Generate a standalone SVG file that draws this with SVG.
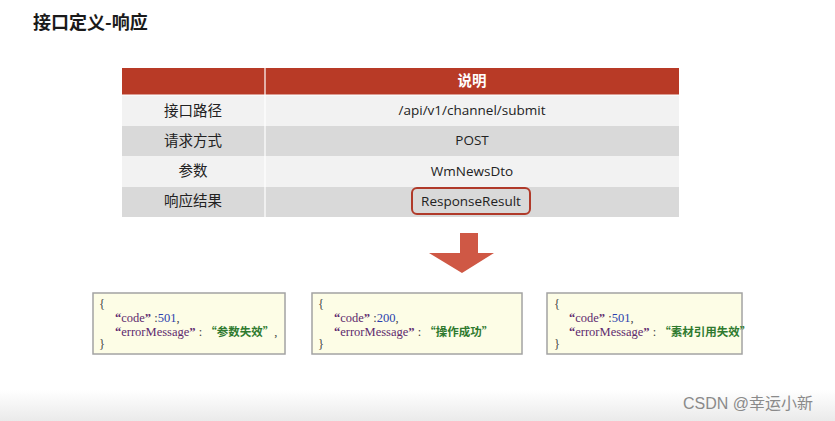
<svg xmlns="http://www.w3.org/2000/svg" width="835" height="421" viewBox="0 0 835 421">
<defs>
<linearGradient id="bot" x1="0" y1="0" x2="0" y2="1">
<stop offset="0" stop-color="#ffffff"/>
<stop offset="1" stop-color="#eaeaea"/>
</linearGradient>
<style>
.cn{font-family:"Noto Sans CJK SC","Noto Sans",sans-serif;font-size:14.5px;fill:#222;text-anchor:middle}
.en{font-family:"Open Sans","Liberation Sans",sans-serif;font-size:13.5px;fill:#222;text-anchor:middle}
.code{font-family:"Liberation Serif","Noto Sans CJK SC",serif;font-size:12.5px;fill:#444}
.k{fill:#5e2a6e}
.q{fill:#5e2a6e;font-weight:bold}
.n{fill:#2a3fae}
.s{fill:#2f7a2f;font-weight:bold;font-family:"Noto Sans CJK SC",serif;font-size:11.5px}
.box{fill:#fdfde6;stroke:#a3a3a3;stroke-width:1.5}
</style>
</defs>
<rect width="835" height="421" fill="#ffffff"/>
<rect x="0" y="390" width="835" height="31" fill="url(#bot)"/>
<text x="33" y="29" font-family="Noto Sans CJK SC,sans-serif" font-size="18" font-weight="bold" fill="#1a1a1a">接口定义-响应</text>

<g id="table">
<rect x="122" y="68" width="557" height="27" fill="#b83a26"/>
<rect x="122" y="95" width="557" height="31" fill="#f2f2f2"/>
<rect x="122" y="126" width="557" height="30" fill="#d9d9d9"/>
<rect x="122" y="156" width="557" height="31" fill="#f2f2f2"/>
<rect x="122" y="187" width="557" height="30" fill="#d9d9d9"/>
<line x1="265" y1="68" x2="265" y2="217" stroke="#ffffff" stroke-width="1.2"/>
<line x1="122" y1="95" x2="679" y2="95" stroke="#ffffff" stroke-width="1"/>
<text class="cn" x="472" y="86" style="fill:#ffffff;font-weight:bold">说明</text>
<text class="cn" x="193" y="116">接口路径</text>
<text class="cn" x="193" y="146">请求方式</text>
<text class="cn" x="193" y="176">参数</text>
<text class="cn" x="193" y="206">响应结果</text>
<text class="en" x="472" y="115">/api/v1/channel/submit</text>
<text class="en" x="472" y="145">POST</text>
<text class="en" x="472" y="176">WmNewsDto</text>
<text class="en" x="471" y="206">ResponseResult</text>
<rect x="412" y="188" width="118" height="26" rx="5" fill="none" stroke="#b03a2a" stroke-width="2"/>
</g>

<g id="connectors">
<polygon points="460,233 478,233 478,253 494,253 462,273 429,253 460,253" fill="#cf5845"/>
</g>

<g id="resp1">
<rect class="box" x="93" y="293" width="192" height="61"/>
<text class="code" x="99" y="308">{</text>
<text class="code" x="115" y="322"><tspan class="q">“</tspan><tspan class="k">code</tspan><tspan class="q">”</tspan> :<tspan class="n">501</tspan>,</text>
<text class="code" x="115" y="336"><tspan class="q">“</tspan><tspan class="k">errorMessage</tspan><tspan class="q">”</tspan> : <tspan class="s">“参数失效”</tspan>,</text>
<text class="code" x="99" y="348">}</text>
</g>

<g id="resp2">
<rect class="box" x="312" y="293" width="210" height="61"/>
<text class="code" x="318" y="308">{</text>
<text class="code" x="334" y="322"><tspan class="q">“</tspan><tspan class="k">code</tspan><tspan class="q">”</tspan> :<tspan class="n">200</tspan>,</text>
<text class="code" x="334" y="336"><tspan class="q">“</tspan><tspan class="k">errorMessage</tspan><tspan class="q">”</tspan> : <tspan class="s">“操作成功”</tspan></text>
<text class="code" x="318" y="348">}</text>
</g>

<g id="resp3">
<rect class="box" x="547" y="293" width="195" height="61"/>
<text class="code" x="554" y="308">{</text>
<text class="code" x="569" y="322"><tspan class="q">“</tspan><tspan class="k">code</tspan><tspan class="q">”</tspan> :<tspan class="n">501</tspan>,</text>
<text class="code" x="569" y="336"><tspan class="q">“</tspan><tspan class="k">errorMessage</tspan><tspan class="q">”</tspan> : <tspan class="s">“素材引用失效”</tspan></text>
<text class="code" x="554" y="348">}</text>
</g>

<text x="683" y="409" font-family="Liberation Sans,Noto Sans CJK SC,sans-serif" font-size="16" fill="#8a8a8a">CSDN @幸运小新</text>
</svg>
